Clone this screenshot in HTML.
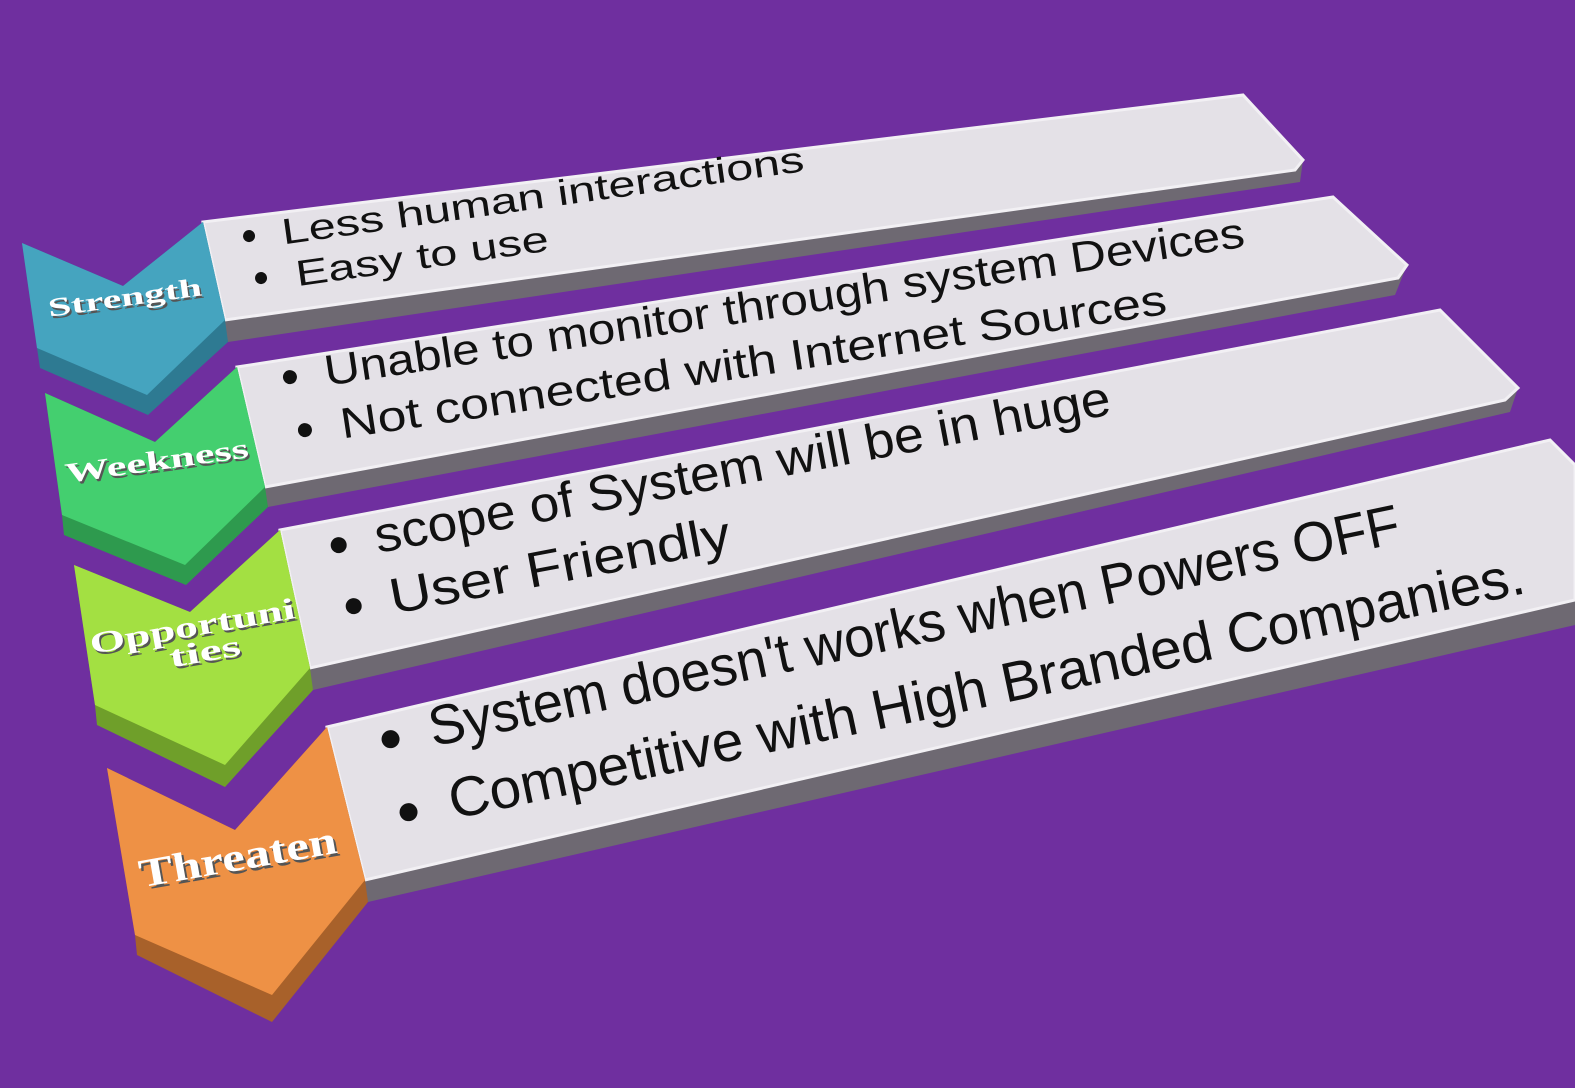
<!DOCTYPE html>
<html><head><meta charset="utf-8"><style>
html,body{margin:0;padding:0;background:#6F2F9F;}
svg{display:block}
.t{font-family:"Liberation Sans",sans-serif;fill:#111;}
.l{font-family:"Liberation Serif",serif;font-weight:bold;}
</style></head><body>
<svg width="1575" height="1088" viewBox="0 0 1575 1088" xmlns="http://www.w3.org/2000/svg">
<rect width="1575" height="1088" fill="#6F2F9F"/>
<g>
<polygon points="203,222 1243,95 1303,160 1300,182 228,342" fill="#6E6972"/>
<polygon points="203,222 1243,95 1303,160 1295,170 225,320" fill="#E4E1E7" stroke="#F2F0F4" stroke-width="3"/>
<polygon points="237,367 1333,197 1407,265 1395,295 268,507" fill="#6E6972"/>
<polygon points="237,367 1333,197 1407,265 1398,278 265,487" fill="#E4E1E7" stroke="#F2F0F4" stroke-width="3"/>
<polygon points="280,530 1440,310 1518,388 1510,412 313,690" fill="#6E6972"/>
<polygon points="280,530 1440,310 1518,388 1505,400 310,668" fill="#E4E1E7" stroke="#F2F0F4" stroke-width="3"/>
<polygon points="327,727 1550,440 1575,465 1575,625 368,902" fill="#6E6972"/>
<polygon points="327,727 1550,440 1575,465 1575,600 365,880" fill="#E4E1E7" stroke="#F2F0F4" stroke-width="3"/>
</g>
<polygon points="22,243 123,286 203,222 225,320 228,342 148,415 40,368 37,348" fill="#2E7A92"/>
<polygon points="22,243 123,286 203,222 225,320 147,395 37,348" fill="#45A4BF"/>
<polygon points="45,393 155,442 237,367 265,487 268,507 186,585 64,535 62,515" fill="#2E9A4E"/>
<polygon points="45,393 155,442 237,367 265,487 185,565 62,515" fill="#44CF6F"/>
<polygon points="74,565 190,612 280,530 310,668 313,690 225,787 97,725 95,705" fill="#6F9F2A"/>
<polygon points="74,565 190,612 280,530 310,668 225,765 95,705" fill="#A3E042"/>
<polygon points="107,768 235,830 327,727 365,880 368,902 272,1022 137,955 135,935" fill="#A8612A"/>
<polygon points="107,768 235,830 327,727 365,880 272,995 135,935" fill="#EE9145"/>
<g class="l" text-anchor="middle">
<g transform="translate(126,306) rotate(-8)"><text x="1.5" y="2.5" font-size="26" fill="#555" textLength="155" lengthAdjust="spacingAndGlyphs">Strength</text><text font-size="26" fill="#fff" textLength="155" lengthAdjust="spacingAndGlyphs">Strength</text></g>
<g transform="translate(158,470) rotate(-8)"><text x="1.5" y="2.5" font-size="28" fill="#555" textLength="185" lengthAdjust="spacingAndGlyphs">Weekness</text><text font-size="28" fill="#fff" textLength="185" lengthAdjust="spacingAndGlyphs">Weekness</text></g>
<g transform="translate(194,636) rotate(-10)"><text x="1.5" y="2.5" font-size="30" fill="#555" textLength="208" lengthAdjust="spacingAndGlyphs">Opportuni</text><text font-size="30" fill="#fff" textLength="208" lengthAdjust="spacingAndGlyphs">Opportuni</text><text x="9.5" y="29.5" font-size="30" fill="#555" textLength="72" lengthAdjust="spacingAndGlyphs">ties</text><text x="8" y="27" font-size="30" fill="#fff" textLength="72" lengthAdjust="spacingAndGlyphs">ties</text></g>
<g transform="translate(240,870) rotate(-10)"><text x="2" y="3" font-size="40" fill="#555" textLength="200" lengthAdjust="spacingAndGlyphs">Threaten</text><text font-size="40" fill="#fff" textLength="200" lengthAdjust="spacingAndGlyphs">Threaten</text></g>
</g>
<g class="t">
<g transform="translate(250,243) rotate(-8)"><circle cx="0" cy="-7" r="6" fill="#111"/><text x="33" y="6" font-size="36" textLength="527" lengthAdjust="spacingAndGlyphs">Less human interactions</text></g>
<g transform="translate(262,285) rotate(-8)"><circle cx="0" cy="-7" r="6" fill="#111"/><text x="35" y="6" font-size="36" textLength="255" lengthAdjust="spacingAndGlyphs">Easy to use</text></g>
<g transform="translate(291,384) rotate(-8.6)"><circle cx="0" cy="-7" r="7" fill="#111"/><text x="35" y="7" font-size="43" textLength="930" lengthAdjust="spacingAndGlyphs">Unable to monitor through system Devices</text></g>
<g transform="translate(306,437) rotate(-8.6)"><circle cx="0" cy="-7" r="7" fill="#111"/><text x="36" y="7" font-size="43" textLength="835" lengthAdjust="spacingAndGlyphs">Not connected with Internet Sources</text></g>
<g transform="translate(340,552) rotate(-10.7)"><circle cx="0" cy="-7" r="8" fill="#111"/><text x="37" y="8" font-size="50" textLength="748" lengthAdjust="spacingAndGlyphs">scope of System will be in huge</text></g>
<g transform="translate(355,613) rotate(-10.7)"><circle cx="0" cy="-7" r="8" fill="#111"/><text x="37" y="8" font-size="50" textLength="346" lengthAdjust="spacingAndGlyphs">User Friendly</text></g>
<g transform="translate(392,746) rotate(-11.9)"><circle cx="0" cy="-7" r="9" fill="#111"/><text x="40" y="9" font-size="56" textLength="991" lengthAdjust="spacingAndGlyphs">System doesn't works when Powers OFF</text></g>
<g transform="translate(410,819) rotate(-11.9)"><circle cx="0" cy="-7" r="9" fill="#111"/><text x="42" y="9" font-size="56" textLength="1098" lengthAdjust="spacingAndGlyphs">Competitive with High Branded Companies.</text></g>
</g>
</svg>
</body></html>
